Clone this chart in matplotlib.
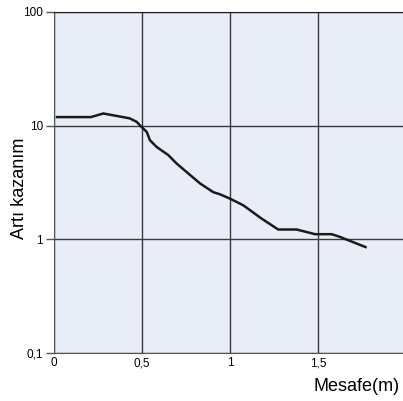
import matplotlib.pyplot as plt
from matplotlib.ticker import FixedLocator, NullLocator

# Curve
mesafe = [0.017, 0.21, 0.28, 0.43, 0.47, 0.49, 0.527, 0.545, 0.583, 0.65, 0.697,
          0.83, 0.905, 0.943, 1.0, 1.057, 1.076, 1.18, 1.274, 1.379, 1.483,
          1.578, 1.625, 1.77]
kazanim = [11.9, 11.9, 12.8, 11.6, 10.8, 10.0, 8.8, 7.45, 6.5, 5.5, 4.64,
           3.1, 2.6, 2.49, 2.28, 2.06, 1.99, 1.52, 1.22, 1.22, 1.11,
           1.11, 1.05, 0.855]

x_ticks = [0, 0.5, 1, 1.5, 2]
x_labels = ['0', '0,5', '1', '1,5', '2']
y_ticks = [0.1, 1, 10, 100]
y_labels = ['0,1', '1', '10', '100']

plt.rcParams['font.family'] = ['Liberation Sans', 'DejaVu Sans']

fig = plt.figure(figsize=(4.03, 4.01), dpi=100)
ax = fig.add_axes([54 / 403, 48 / 401, 352 / 403, 341 / 401])
ax.set_facecolor('#e9edf7')

ax.plot(mesafe, kazanim, color='#1a1a1a', lw=1.8, zorder=3)

ax.set_yscale('log')
ax.set_xlim(0, 2)
ax.set_ylim(0.1, 100)
ax.xaxis.set_major_locator(FixedLocator(x_ticks))
ax.set_xticklabels(x_labels)
ax.yaxis.set_major_locator(FixedLocator(y_ticks))
ax.set_yticklabels(y_labels)
ax.yaxis.set_minor_locator(NullLocator())

ax.grid(True, color='#3a3a3a', lw=1.0)
ax.tick_params(axis='x', length=0, labelsize=8.5, pad=3)
ax.tick_params(axis='y', length=6, width=1, color='#555555', labelsize=8.5, pad=2)
for side in ['left', 'bottom']:
    ax.spines[side].set_color('#555555')
ax.spines['top'].set_color('#1a1a1a')
ax.spines['right'].set_visible(False)

ax.set_ylabel('Artı kazanım', fontsize=13, va='center')
ax.yaxis.set_label_coords(-0.099, 0.484)
fig.text(400 / 403, 6 / 401, 'Mesafe(m)', fontsize=13, ha='right', va='bottom')

fig.savefig('out.png', dpi=100)
